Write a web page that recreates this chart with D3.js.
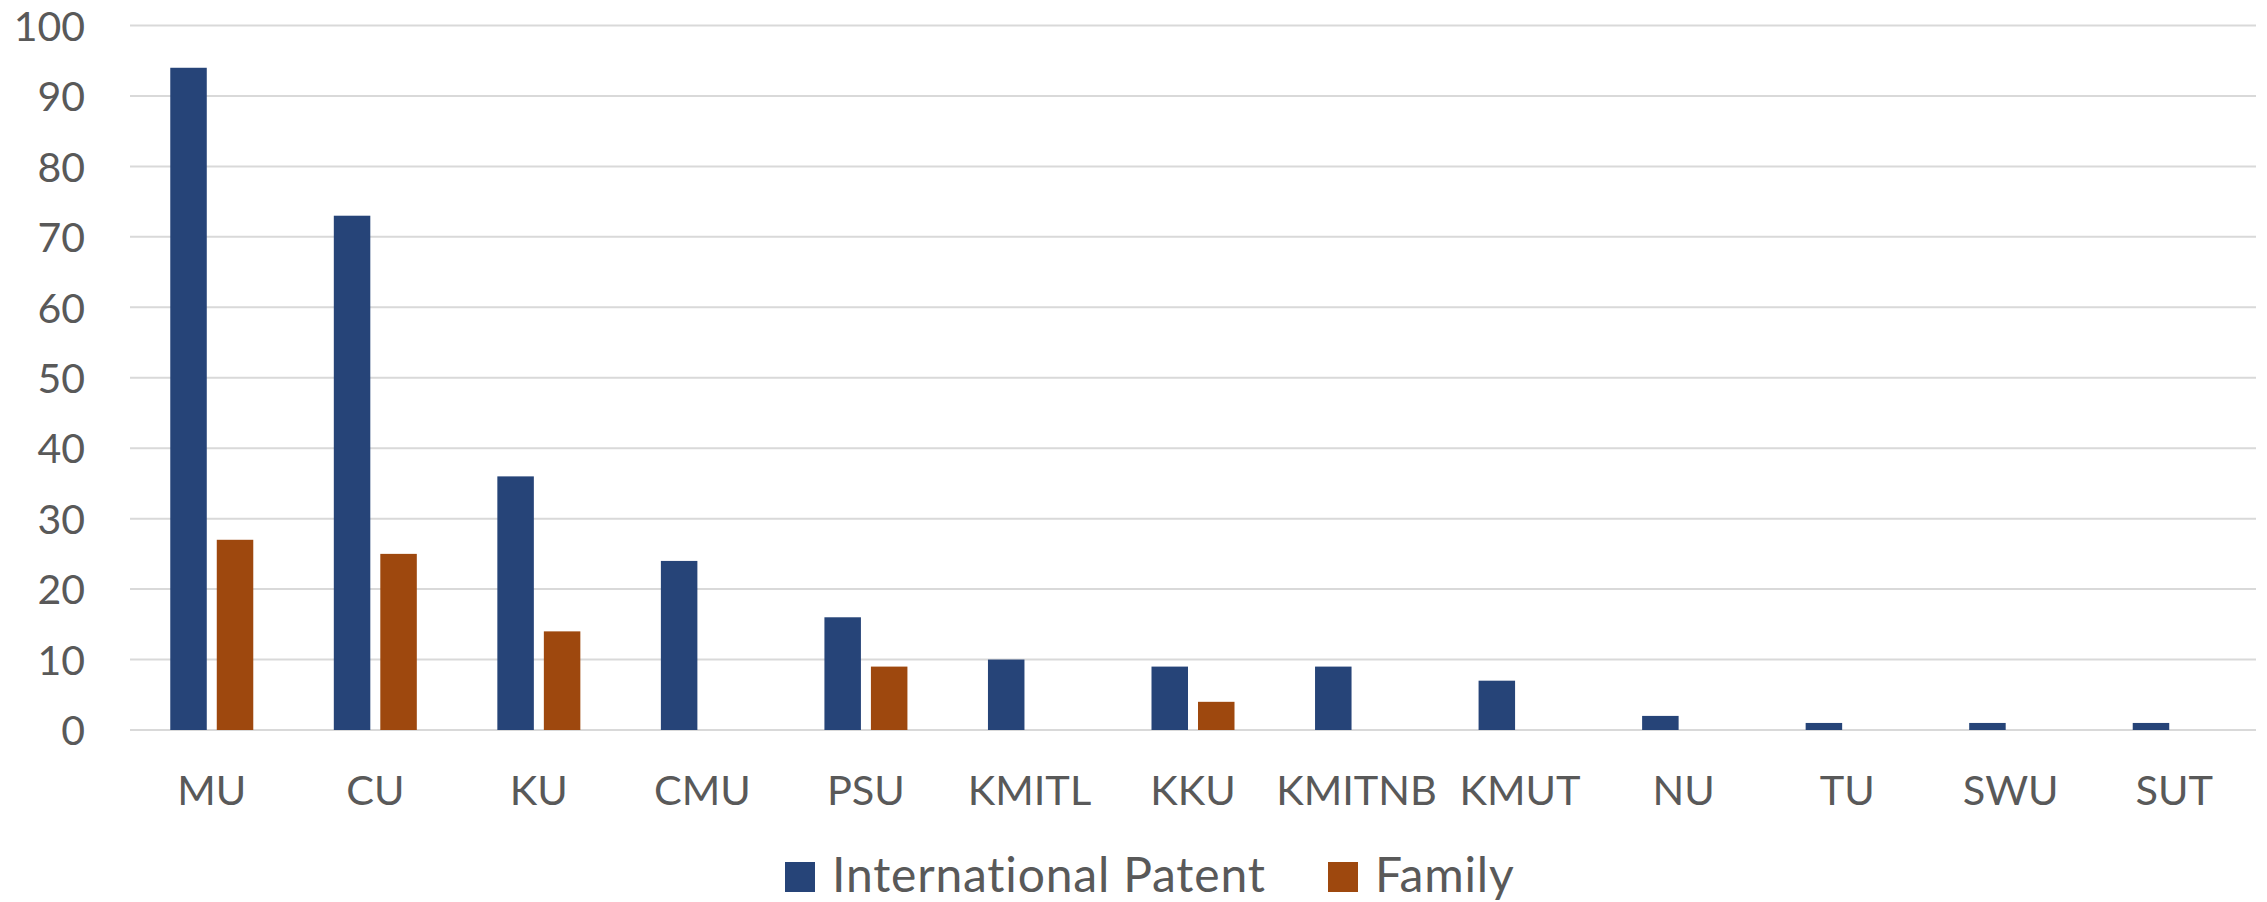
<!DOCTYPE html>
<html>
<head>
<meta charset="utf-8">
<script src="https://cdn.jsdelivr.net/npm/d3@7/dist/d3.min.js"></script>
<style>
  html, body { margin: 0; padding: 0; background: #fff; }
  svg { display: block; }
  text { font-family: Lato, "Open Sans", sans-serif; fill: #595959; }
</style>
</head>
<body>
<svg id="chart" width="2267" height="902"></svg>
<script>
const categories = ["MU","CU","KU","CMU","PSU","KMITL","KKU","KMITNB","KMUT","NU","TU","SWU","SUT"];
const seriesNames = ["International Patent","Family"];
const internationalPatent = [94,73,36,24,16,10,9,9,7,2,1,1,1];
const family = [27,25,14,0,9,0,4,0,0,0,0,0,0];
const yTicks = [0,10,20,30,40,50,60,70,80,90,100];
const colors = ["#264478","#9E480E"];

(function () {
const svg = d3.select("#chart");
const plotLeft = 130, plotRight = 2256, plotTop = 25.5, plotBottom = 730;

const x0 = d3.scaleBand().domain(categories).range([plotLeft, plotRight]).padding(0);
const x1 = d3.scaleBand().domain(seriesNames).range([-41.5, 41.5]).paddingInner(10/46.5);
const y = d3.scaleLinear().domain([0,100]).range([plotBottom, plotTop]);

// gridlines
svg.append("g").selectAll("line").data(yTicks).join("line")
  .attr("x1", plotLeft).attr("x2", plotRight)
  .attr("y1", d => y(d)).attr("y2", d => y(d))
  .attr("stroke", "#D9D9D9").attr("stroke-width", 2);

// y axis labels
const yAxis = d3.axisLeft(y).tickValues(yTicks).tickSize(0).tickPadding(0);
const gy = svg.append("g").attr("transform", "translate(85,0)").call(yAxis);
gy.select(".domain").remove();
gy.selectAll("text").attr("font-size", 41).attr("font-family", "Lato").attr("fill", "#595959").attr("dy", "0.36em");

// bars
const data = [internationalPatent, family];
seriesNames.forEach((s, si) => {
  svg.append("g").selectAll("rect").data(categories).join("rect")
    .attr("x", (c) => x0(c) + x0.bandwidth()/2 + x1(s))
    .attr("width", x1.bandwidth())
    .attr("y", (c, i) => y(data[si][i]))
    .attr("height", (c, i) => plotBottom - y(data[si][i]))
    .attr("fill", colors[si]);
});

// x axis labels
const xAxis = d3.axisBottom(x0).tickSize(0).tickPadding(0);
const gx = svg.append("g").attr("transform", "translate(0,805)").call(xAxis);
gx.select(".domain").remove();
gx.selectAll("text").attr("font-size", 41.5).attr("font-family", "Lato").attr("fill", "#595959").attr("dy", 0);

// legend
const legendPos = [{sq: 785, tx: 832}, {sq: 1328, tx: 1375}];
const lg = svg.append("g");
seriesNames.forEach((s, i) => {
  lg.append("rect").attr("x", legendPos[i].sq).attr("y", 862).attr("width", 30).attr("height", 30).attr("fill", colors[i]);
  lg.append("text").attr("x", legendPos[i].tx).attr("y", 892).attr("font-size", 48).attr("letter-spacing", 0.8).text(s);
});
})();
</script>
</body>
</html>
